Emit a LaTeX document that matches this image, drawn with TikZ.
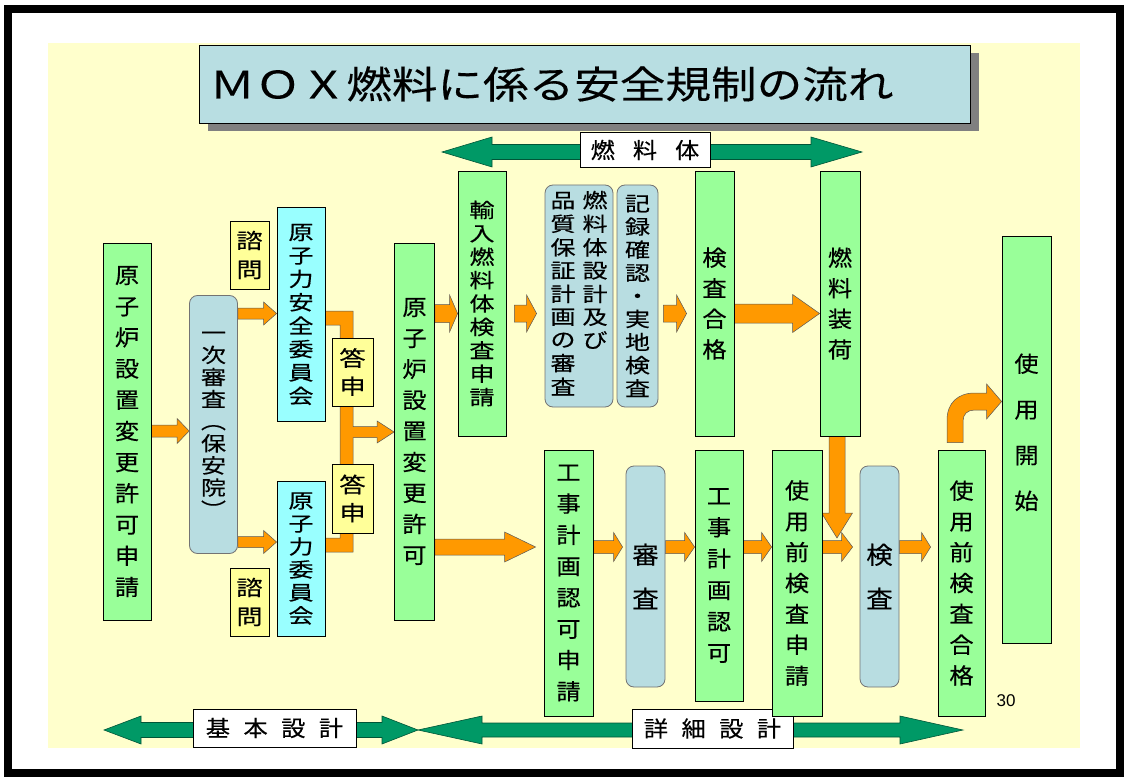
\documentclass[tikz,border=0pt]{standalone}
\usepackage{fontspec}
\newfontfamily\jpA[FakeStretch=1.1,FakeBold=0.4]{Noto Sans CJK JP}
\newfontfamily\jpB[FakeStretch=1.25,FakeBold=0.4]{Noto Sans CJK JP}
\newfontfamily\jpT[FakeStretch=1.2,FakeBold=0.3]{Noto Sans CJK JP}
\newfontfamily\numfont{Liberation Sans}
\usetikzlibrary{calc,backgrounds,shadows}
\definecolor{bgyellow}{RGB}{255,255,204}
\definecolor{boxgreen}{RGB}{153,255,153}
\definecolor{boxcyan}{RGB}{153,255,255}
\definecolor{boxyellow}{RGB}{255,255,153}
\definecolor{boxblue}{RGB}{184,221,225}
\definecolor{titleblue}{RGB}{184,222,226}
\definecolor{arrorange}{RGB}{255,153,0}
\definecolor{arrgreen}{RGB}{0,153,102}
\definecolor{arrgreenedge}{RGB}{0,85,55}
\definecolor{shadowgray}{RGB}{128,128,128}
\tikzset{
  box/.style={draw=black, line width=0.8pt, inner sep=0pt, align=center},
  gbox/.style={box, fill=boxgreen},
  cbox/.style={box, fill=boxcyan},
  ybox/.style={box, fill=boxyellow},
  rbox/.style={draw=black!55, line width=0.8pt, fill=boxblue, rounded corners=8pt, inner sep=0pt, align=center},
  lbl/.style={draw=black, line width=0.8pt, fill=white, inner sep=0pt, align=center, font={\jpA\fontsize{22pt}{26pt}\selectfont}},
  vt/.style 2 args={font={\jpA\fontsize{#1}{#2}\selectfont}},
  vtB/.style 2 args={font={\jpB\fontsize{#1}{#2}\selectfont}},
  orangearrow/.style={fill=arrorange, draw=black!65, line width=0.5pt},
  greenarrow/.style={fill=arrgreen, draw=arrgreenedge, line width=0.6pt},
}
% horizontal block arrow: from, tip, shaft half, head half, head length
\newcommand\harr[5]{\draw[orangearrow] let \p1=(#1), \p2=(#2) in
  (\x1,{\y1+#3}) -- ({\x2-#5},{\y1+#3}) -- ({\x2-#5},{\y1+#4}) -- (\x2,\y1)
  -- ({\x2-#5},{\y1-#4}) -- ({\x2-#5},{\y1-#3}) -- (\x1,{\y1-#3}) -- cycle;}
% downward block arrow
\newcommand\varr[5]{\draw[orangearrow] let \p1=(#1), \p2=(#2) in
  ({\x1-#3},\y1) -- ({\x1-#3},{\y2+#5}) -- ({\x1-#4},{\y2+#5}) -- (\x1,\y2)
  -- ({\x1+#4},{\y2+#5}) -- ({\x1+#3},{\y2+#5}) -- ({\x1+#3},\y1) -- cycle;}
% green double arrow: x1, x2, y, shaft half, head half, left head len, right head len
\newcommand\garr[7]{\draw[greenarrow] (#1,#3) -- ({#1+#6},{#3-#5}) -- ({#1+#6},{#3-#4})
  -- ({#2-#7},{#3-#4}) -- ({#2-#7},{#3-#5}) -- (#2,#3) -- ({#2-#7},{#3+#5})
  -- ({#2-#7},{#3+#4}) -- ({#1+#6},{#3+#4}) -- ({#1+#6},{#3+#5}) -- cycle;}
\begin{document}
\begin{tikzpicture}[x=1pt, y=-1pt]
\useasboundingbox (0,0) rectangle (1127,778);
\begin{scope}[on background layer]
  \fill[white] (0,0) rectangle (1127,778);
  \draw[line width=8pt] (8,9) rectangle (1120,773);
  \fill[bgyellow] (48,43) rectangle (1080,748);
\end{scope}

% title
\node[draw=black, line width=0.8pt, fill=titleblue, minimum width=771pt, minimum height=78pt,
      text width=750pt, align=left, inner sep=0pt,
      drop shadow={shadow xshift=9pt, shadow yshift=-8pt, fill=shadowgray, opacity=1},
      font={\jpT\fontsize{38pt}{44pt}\selectfont}] (T) at (584.5,84) {ＭＯＸ燃料に係る安全規制の流れ};

% green spans
\garr{442}{862}{152}{7.5}{15}{50}{51}
\garr{104}{418}{730}{7.5}{14}{37}{36}
\garr{418}{963}{730}{7}{14}{64}{63}
\node[lbl, minimum width=130pt, minimum height=35pt] (L1) at (645,150) {燃\hspace{18pt}料\hspace{18pt}体};
\node[lbl, minimum width=163pt, minimum height=38pt] (L2) at (274.5,728) {基\hspace{13.5pt}本\hspace{13.5pt}設\hspace{13.5pt}計};
\node[lbl, minimum width=161pt, minimum height=39pt] (L3) at (712.5,728.5) {詳\hspace{13.5pt}細\hspace{13.5pt}設\hspace{13.5pt}計};

% boxes
\node[gbox, minimum width=48pt, minimum height=377pt, vt={22pt}{31.2pt}] (A) at (127,431.5) {原\\子\\炉\\設\\置\\変\\更\\許\\可\\申\\請};
\node[rbox, minimum width=48pt, minimum height=258pt, vtB={20pt}{22.1pt}] (B) at (213.5,424.5) {一\\次\\審\\査\\︵\\保\\安\\院\\︶};
\node[ybox, minimum width=39pt, minimum height=68pt, vtB={21pt}{29pt}] (Q1) at (249.5,255) {諮\\問};
\node[cbox, minimum width=48pt, minimum height=214pt, vtB={20pt}{23.4pt}] (C1) at (301,314.5) {原\\子\\力\\安\\全\\委\\員\\会};
\node[ybox, minimum width=39pt, minimum height=68pt, vtB={21pt}{29pt}] (Q2) at (249.5,602) {諮\\問};
\node[cbox, minimum width=48pt, minimum height=155pt, vtB={20pt}{23pt}] (C2) at (301,558.5) {原\\子\\力\\委\\員\\会};
\node[ybox, minimum width=41pt, minimum height=68pt, vtB={21pt}{28pt}] (R1) at (352.5,372) {答\\申};
\node[ybox, minimum width=41pt, minimum height=69pt, vtB={21pt}{28pt}] (R2) at (352.5,498.5) {答\\申};
\node[gbox, minimum width=40pt, minimum height=377pt, vt={22pt}{31pt}] (D) at (414.5,431.5) {原\\子\\炉\\設\\置\\変\\更\\許\\可};
\node[gbox, minimum width=48pt, minimum height=265pt, vtB={20pt}{23.4pt}] (E) at (482,303.5) {輸\\入\\燃\\料\\体\\検\\査\\申\\請};
\node[rbox, minimum width=68pt, minimum height=222pt, vtB={20pt}{22.8pt}] (F) at (579,296)
  {\begin{tabular}{@{}c@{\hspace{7pt}}c@{}}\begin{tabular}[t]{@{}c@{}}品\\質\\保\\証\\計\\画\\の\\審\\査\end{tabular}&\begin{tabular}[t]{@{}c@{}}燃\\料\\体\\設\\計\\及\\び\end{tabular}\end{tabular}};
\node[rbox, minimum width=41pt, minimum height=222pt, vtB={20pt}{23.1pt}] (G) at (637.5,296) {記\\録\\確\\認\\・\\実\\地\\検\\査};
\node[gbox, minimum width=39pt, minimum height=265pt, vt={22pt}{30.6pt}] (H) at (714.5,303.5) {検\\査\\合\\格};
\node[gbox, minimum width=40pt, minimum height=265pt, vt={22pt}{30.6pt}] (I) at (840,303.5) {燃\\料\\装\\荷};
\node[gbox, minimum width=49pt, minimum height=407pt, vt={22pt}{45.7pt}] (J) at (1026.5,439.5) {\raisebox{8pt}[\height][\depth]{\begin{tabular}{@{}c@{}}使\\用\\開\\始\end{tabular}}};
\node[gbox, minimum width=49pt, minimum height=266pt, vt={22pt}{31.3pt}] (K) at (568.5,583) {工\\事\\計\\画\\認\\可\\申\\請};
\node[rbox, minimum width=39pt, minimum height=221pt, vt={24pt}{44pt}] (L) at (645.5,576.5) {審\\査};
\node[gbox, minimum width=48pt, minimum height=251pt, vt={22pt}{31.4pt}] (M) at (719,575.5) {工\\事\\計\\画\\認\\可};
\node[gbox, minimum width=50pt, minimum height=266pt, vt={22pt}{30.9pt}] (N) at (797,583) {使\\用\\前\\検\\査\\申\\請};
\node[rbox, minimum width=39pt, minimum height=221pt, vt={24pt}{44pt}] (O) at (879.5,576.5) {検\\査};
\node[gbox, minimum width=47pt, minimum height=266pt, vt={22pt}{30.8pt}] (P) at (961.5,583) {使\\用\\前\\検\\査\\合\\格};
\node[font={\numfont\fontsize{17pt}{20pt}\selectfont}, inner sep=0pt] (pg) at (1006,701) {30};

% row levels
\coordinate (rA) at (0,431);
\coordinate (rT) at (0,313.5);
\coordinate (rB) at (0,542);
\coordinate (rK) at (0,547);
\coordinate (Itip) at (837,538);

\begin{scope}[on background layer]
\harr{A.east|-rA}{B.west|-rA}{6pt}{12.5pt}{12pt}
\harr{B.east|-rT}{C1.west|-rT}{5.5pt}{11.5pt}{13pt}
\harr{B.east|-rB}{C2.west|-rB}{5.5pt}{11.5pt}{13pt}
% answer bracket joining into arrow to D
\draw[orangearrow] let \p1=(C1.east), \p2=(C2.east), \p3=(D.west) in
  (\x1,-311pt) -- (353pt,-311pt) -- (353pt,-426.5pt) -- ({\x3-17pt},-426.5pt) -- ({\x3-17pt},-421pt)
  -- (\x3,-432pt) -- ({\x3-17pt},-443pt) -- ({\x3-17pt},-437.5pt) -- (353pt,-437.5pt)
  -- (353pt,-552pt) -- (\x2,-552pt) -- (\x2,-538pt) -- (340pt,-538pt) -- (340pt,-325pt) -- (\x1,-325pt) -- cycle;
\harr{D.east|-rT}{E.west|-rT}{9pt}{18.5pt}{8pt}
\harr{$(E.east|-rT)+(8,0)$}{$(F.west|-rT)+(-8,0)$}{8.5pt}{18.5pt}{10pt}
\harr{$(G.east|-rT)+(5,0)$}{$(H.west|-rT)+(-8,0)$}{8.5pt}{18.5pt}{10pt}
\harr{H.east|-rT}{I.west|-rT}{9.5pt}{19pt}{27pt}
\harr{D.east|-rK}{$(K.west|-rK)+(-8,0)$}{8pt}{15pt}{31pt}
\harr{K.east|-rK}{$(L.west|-rK)+(-3,0)$}{6.5pt}{14.5pt}{9pt}
\harr{L.east|-rK}{M.west|-rK}{6.5pt}{14.5pt}{10pt}
\harr{M.east|-rK}{N.west|-rK}{6.5pt}{14.5pt}{10pt}
\harr{N.east|-rK}{$(O.west|-rK)+(-7,0)$}{6.5pt}{14.5pt}{11pt}
\harr{O.east|-rK}{$(P.west|-rK)+(-7,0)$}{6.5pt}{14.5pt}{9pt}
\varr{$(I.south)+(-3,0)$}{Itip}{8pt}{15.5pt}{25pt}
% curved arrow from P to J
\draw[orangearrow] let \p1=(P.north), \p2=(J.west) in
  ({\x1-14.5pt},{\y1+7pt}) -- ({\x1-14.5pt},-420pt)
  .. controls ({\x1-14.5pt},-403pt) and ({\x1-3.5pt},-393pt) .. ({\x2-27pt},-393pt)
  -- ({\x2-15pt},-393pt) -- ({\x2-15pt},-384pt) -- (\x2,-401.5pt) -- ({\x2-15pt},-419pt)
  -- ({\x2-15pt},-410pt) -- ({\x2-27pt},-410pt)
  .. controls ({\x2-34pt},-410pt) and ({\x1+1.5pt},-414pt) .. ({\x1+1.5pt},-421pt)
  -- ({\x1+1.5pt},{\y1+7pt}) -- cycle;
\end{scope}
\end{tikzpicture}
\end{document}
